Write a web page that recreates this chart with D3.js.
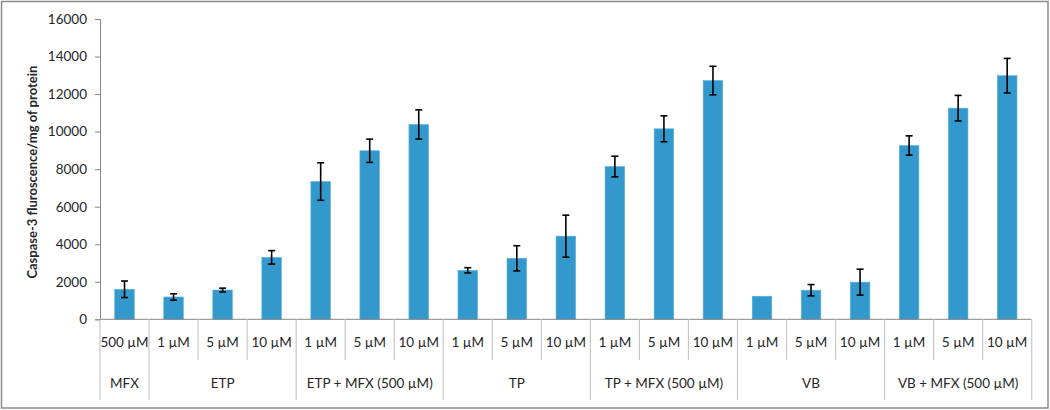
<!DOCTYPE html>
<html><head><meta charset="utf-8">
<script src="https://cdn.jsdelivr.net/npm/d3@7"></script>
<style>body{margin:0;background:#fff}svg{display:block}text{font-family:Lato,"Open Sans",sans-serif;fill:#262626}</style>
</head><body>
<script>
const categories = ["500 µM","1 µM","5 µM","10 µM","1 µM","5 µM","10 µM","1 µM","5 µM","10 µM","1 µM","5 µM","10 µM","1 µM","5 µM","10 µM","1 µM","5 µM","10 µM"];
const groups = ["MFX","ETP","ETP + MFX (500 µM)","TP","TP + MFX (500 µM)","VB","VB + MFX (500 µM)"];
const groupSizes = [1,3,3,3,3,3,3];
const values = [1600,1190,1560,3300,7340,8980,10380,2610,3250,4430,8140,10150,12720,1230,1550,1980,9260,11250,12980];
const errors = [440,170,100,360,1000,620,780,140,670,1120,550,690,760,0,300,690,515,680,920];
const yTicks = [0,2000,4000,6000,8000,10000,12000,14000,16000];
const yTitle = "Caspase-3 fluroscence/mg of protein";

const W=1050,H=410;
const svg=d3.select("body").append("svg").attr("width",W).attr("height",H);
svg.append("rect").attr("x",1.5).attr("y",1.5).attr("width",W-3.5).attr("height",H-3.5)
  .attr("fill","#fff").attr("stroke","#8a8a8a").attr("stroke-width",1.5);

const x0=100,x1=1031.7,yTop=19,yBot=319.3;
const x=d3.scaleBand().domain(d3.range(categories.length)).range([x0,x1]).paddingInner(0.6).paddingOuter(0.3);
const y=d3.scaleLinear().domain([0,16000]).range([yBot,yTop]);
const step=x.step(), half=step*x.paddingInner()/2;

// y axis
const ya=svg.append("g").attr("transform",`translate(${x0},0)`)
  .call(d3.axisLeft(y).tickValues(yTicks).tickSize(5).tickPadding(8).tickFormat(d3.format("d")));
ya.select(".domain").attr("stroke","#868686");
ya.selectAll(".tick line").attr("stroke","#868686");
ya.selectAll(".tick text").style("font-size","13.5px").style("font-family","Lato").attr("fill","#262626");

// bars
svg.append("g").selectAll("rect").data(values).join("rect")
  .attr("x",(d,i)=>x(i)).attr("width",x.bandwidth())
  .attr("y",d=>y(d)).attr("height",d=>y(0)-y(d))
  .attr("fill","#3399cc").attr("stroke","#5fb3dc").attr("stroke-width",0.6);

// error bars
const eg=svg.append("g").attr("stroke","#000").attr("stroke-width",1.6);
values.forEach((v,i)=>{
  const e=errors[i]; if(!e) return;
  const cx=x(i)+x.bandwidth()/2;
  eg.append("line").attr("x1",cx).attr("x2",cx).attr("y1",y(v+e)).attr("y2",y(v-e));
  eg.append("line").attr("x1",cx-3.5).attr("x2",cx+3.5).attr("y1",y(v+e)).attr("y2",y(v+e));
  eg.append("line").attr("x1",cx-3.5).attr("x2",cx+3.5).attr("y1",y(v-e)).attr("y2",y(v-e));
});

// x axis baseline
svg.append("line").attr("x1",x0).attr("x2",x1).attr("y1",yBot).attr("y2",yBot).attr("stroke","#868686");

// separators
const gb=new Set([0]); let acc=0; groupSizes.forEach(s=>{acc+=s;gb.add(acc);});
const sg=svg.append("g").attr("stroke","#c8c8c8").attr("stroke-width",1.2);
for(let i=0;i<=categories.length;i++){
  const xs = i<categories.length ? x(i)-half : x(i-1)+x.bandwidth()+half;
  sg.append("line").attr("x1",xs).attr("x2",xs).attr("y1",yBot).attr("y2",gb.has(i)?400:360);
}
// category labels
svg.append("g").selectAll("text").data(categories).join("text")
  .attr("x",(d,i)=>x(i)+x.bandwidth()/2).attr("y",347).attr("text-anchor","middle")
  .style("font-size","13.5px").text(d=>d);
// group labels
let start=0;
const gl=svg.append("g");
groups.forEach((g,k)=>{
  const a=x(start)-half, b=x(start+groupSizes[k]-1)+x.bandwidth()+half;
  gl.append("text").attr("x",(a+b)/2).attr("y",388).attr("text-anchor","middle").style("font-size","13.5px").text(g);
  start+=groupSizes[k];
});
// y title
svg.append("text").attr("transform",`translate(37,${(yTop+yBot)/2+3}) rotate(-90)`)
  .attr("text-anchor","middle").style("font-size","13px").style("font-weight","bold").attr("fill","#000").text(yTitle);
</script>
</body></html>
